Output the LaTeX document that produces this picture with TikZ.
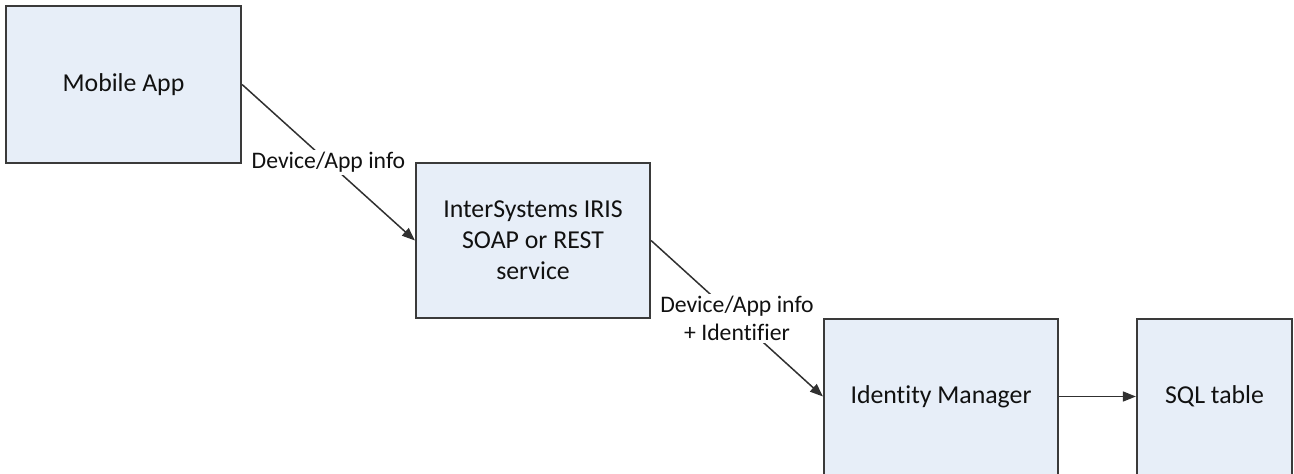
\documentclass[tikz,border=0pt]{standalone}
\usepackage{fontspec}
\setmainfont{Carlito}[Ligatures=NoCommon]
\usetikzlibrary{arrows.meta}
\definecolor{boxfill}{HTML}{E7EEF8}
\definecolor{boxline}{HTML}{3A3A3A}
\definecolor{arrline}{HTML}{303030}
\definecolor{txt}{HTML}{111111}
\begin{document}
\begin{tikzpicture}[x=1pt,y=-1pt,
  box/.style={draw=boxline, line width=2.2pt, fill=boxfill, text=txt, align=center,
    inner sep=0pt, font=\fontsize{25.8}{31}\selectfont},
  boxtext/.style={text=txt, font=\fontsize{25.8}{31}\selectfont},
  conn/.style={draw=arrline, line width=1.5pt, -{Triangle[length=13pt,width=10pt]}},
  lbl/.style={fill=white, text=txt, align=center, inner sep=2pt,
    font=\fontsize{23.7}{28.7}\selectfont}]
\useasboundingbox (0,0) rectangle (1294,474);
\node[box, minimum width=235pt, minimum height=157pt] (mobile) at (123.5,84.5) {Mobile App};
\node[box, minimum width=234pt, minimum height=155pt] (iris) at (533,240.5) {InterSystems IRIS\\SOAP or REST\\service};
\node[box, minimum width=234pt, minimum height=157pt] (idm) at (941,397.5) {};
\node[boxtext] (idmtext) at (941,396.5) {Identity Manager};
\node[box, minimum width=155pt, minimum height=157pt] (sql) at (1214.5,397.5) {};
\node[boxtext] (sqltext) at (1214.5,396.5) {SQL table};
\draw[conn] (mobile.east) -- node[lbl] (l1) {Device/App info} (iris.west);
\draw[conn] (iris.east) -- node[lbl] (l2) {Device/App info\\+ Identifier} (idm.west|-idmtext.center);
\draw[conn] (idm.east|-idmtext.center) -- (sql.west|-idmtext.center);
\end{tikzpicture}
\end{document}
